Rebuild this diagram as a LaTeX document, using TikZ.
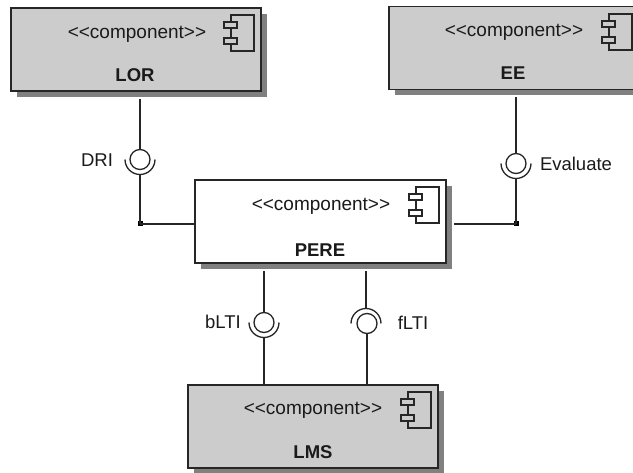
\documentclass[tikz,border=0pt]{standalone}
\usepackage{fontspec}
\setmainfont{Liberation Sans}
\usetikzlibrary{shadows}
\definecolor{boxgray}{HTML}{CCCCCC}
\definecolor{shadowgray}{HTML}{808080}
\definecolor{inkc}{HTML}{1A1A1A}
\tikzset{
  x=1pt,y=-1pt,
  every node/.style={text=inkc},
  compbox/.style={draw=black!85,line width=1.4pt,minimum width=250pt,minimum height=83pt,inner sep=0pt,
    general shadow={shadow xshift=6pt,shadow yshift=-6pt,fill=shadowgray}},
  stereo/.style={font=\fontsize{19}{21}\selectfont,inner sep=0pt},
  compname/.style={font=\fontsize{18.5}{20}\selectfont\bfseries,inner sep=0pt},
  ifacelabel/.style={font=\fontsize{18.5}{20}\selectfont,inner sep=0pt},
  wire/.style={draw=black!85,line width=1.4pt},
  ball/.style={circle,draw=black!85,line width=1.3pt,minimum size=20pt,inner sep=0pt},
  socket/.style={draw=black!85,line width=1.3pt},
  junction/.style={rectangle,fill=black,minimum size=5pt,inner sep=0pt},
  pics/compicon/.style={code={
    \draw[black!85,line width=1.3pt] (0,0) rectangle (23,36);
    \draw[black!85,line width=1.3pt,fill=#1] (-7,7) rectangle (6,13);
    \draw[black!85,line width=1.3pt,fill=#1] (-7,23) rectangle (6,29);
  }}
}
\begin{document}
\begin{tikzpicture}
\path[use as bounding box,clip] (0,0) rectangle (633,473);
\fill[white] (0,0) rectangle (633,473);
% boxes
\node[compbox,fill=boxgray] (lor) at (136,49.5) {};
\node[compbox,fill=boxgray] (ee) at (514,48) {};
\node[compbox,fill=white,minimum width=251pt] (pere) at (320.5,221.5) {};
\node[compbox,fill=boxgray] (lms) at (313,426.5) {};
% icons
\pic at (231,15) {compicon=boxgray};
\pic at (609,14) {compicon=boxgray};
\pic at (416,187) {compicon=white};
\pic at (408,392) {compicon=boxgray};
% texts
\node[stereo] (t1) at (137,34) {<{}<component>{}>};
\node[compname] (n1) at (135,75) {LOR};
\node[stereo] (t2) at (514,32) {<{}<component>{}>};
\node[compname] (n2) at (513,73) {EE};
\node[stereo] (t3) at (321,206) {<{}<component>{}>};
\node[compname] (n3) at (320,250) {PERE};
\node[stereo] (t4) at (313,410) {<{}<component>{}>};
\node[compname] (n4) at (313,452) {LMS};
\node[ifacelabel] (l1) at (97,160) {DRI};
\node[ifacelabel] (l2) at (576,164) {Evaluate};
\node[ifacelabel] (l3) at (223,322) {bLTI};
\node[ifacelabel] (l4) at (413,323) {fLTI};
% interfaces
\node[ball] (b1) at (140,159.5) {};
\node[ball] (b2) at (516,163.5) {};
\node[ball] (b3) at (264,322.5) {};
\node[ball] (b4) at (367,323.5) {};
\coordinate (s1) at (140,174.5);
\coordinate (s2) at (516,178.5);
\coordinate (s3) at (264,337.5);
\coordinate (s4) at (366,308.5);
\draw[socket] (s1) ++(-15,-15) arc[start angle=180,end angle=360,radius=15pt];
\draw[socket] (s2) ++(-15,-15) arc[start angle=180,end angle=360,radius=15pt];
\draw[socket] (s3) ++(-15,-15) arc[start angle=180,end angle=360,radius=15pt];
\draw[socket] (s4) ++(15,15) arc[start angle=0,end angle=180,radius=15pt];
% junctions
\node[junction] (j1) at (140,224) {};
\node[junction] (j2) at (516,224) {};
% connectors
\draw[wire,shorten >=7pt] (b1.north) -- (b1.north |- lor.south);
\draw[wire] (s1) -- (j1.center);
\draw[wire] (j1.center) -- (j1.center -| pere.west);
\draw[wire,shorten >=7pt] (b2.north) -- (b2.north |- ee.south);
\draw[wire] (s2) -- (j2.center);
\draw[wire,shorten >=7pt] (j2.center) -- (j2.center -| pere.east);
\draw[wire,shorten >=7pt] (b3.north) -- (b3.north |- pere.south);
\draw[wire] (s3) -- (s3 |- lms.north);
\draw[wire,shorten >=7pt] (s4) -- (s4 |- pere.south);
\draw[wire] (b4.south) -- (b4.south |- lms.north);
\end{tikzpicture}
\end{document}
